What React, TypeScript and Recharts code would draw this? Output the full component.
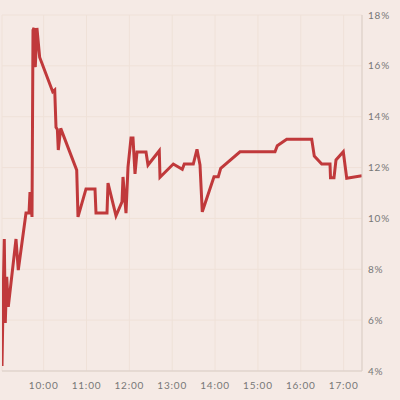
import React from 'react';
import { LineChart, Line, XAxis, YAxis, CartesianGrid } from 'recharts';

// time in minutes since midnight
const times: number[] = [
  541.7, 543.1, 544.9, 546.3, 548.3, 550.5, 561.3, 564.5, 575.3, 579.5,
  580.9, 583.7, 585.1, 586.5, 588.3, 590.6, 594.4, 612.7, 615.5, 617.3,
  619.2, 620.5, 623.9, 646.3, 648.1, 659.3, 671.9, 673.3, 688.7, 690.1,
  701.3, 709.7, 711.1, 715.3, 718.1, 722.3, 725.1, 727.9, 730.7, 743.3,
  746.1, 761.9, 762.9, 781.5, 794.1, 796.9, 809.5, 814.7, 818.9, 822.1,
  838.5, 844.5, 847.9, 874.9, 923.9, 927.1, 940.3, 975.3, 978.9, 989.3,
  1000.9, 1001.6, 1006.5, 1009.3, 1019.5, 1024.3, 1045.7,
];
const rates: number[] = [
  4.2, 6.6, 9.19, 5.89, 7.7, 6.52, 9.19, 7.97, 10.21, 10.21,
  11.04, 10.06, 17.41, 17.49, 15.95, 17.49, 16.34, 14.98, 15.05, 13.58,
  13.5, 12.69, 13.54, 11.9, 10.06, 11.16, 11.16, 10.21, 10.21, 11.39,
  10.1, 10.65, 11.63, 10.21, 12.02, 13.16, 13.16, 11.75, 12.61, 12.61,
  12.1, 12.66, 11.62, 12.14, 11.93, 12.14, 12.14, 12.72, 12.1, 10.26,
  11.64, 11.64, 11.97, 12.62, 12.62, 12.86, 13.11, 13.11, 12.45, 12.14,
  12.14, 11.6, 11.6, 12.3, 12.62, 11.58, 11.68,
];
const xTicks: number[] = [600, 660, 720, 780, 840, 900, 960, 1020];
const xTickLabels: string[] = ['10:00', '11:00', '12:00', '13:00', '14:00', '15:00', '16:00', '17:00'];
const yTicks: number[] = [4, 6, 8, 10, 12, 14, 16, 18];

const data = times.map((t, i) => ({ t, rate: rates[i] }));

const tickStyle = { fontFamily: 'Lato, sans-serif', fontSize: 10, fill: '#777', letterSpacing: 0.8 };

export default function App() {
  return (
    <div style={{ position: 'absolute', left: 0, top: 0, width: 400, height: 400, background: '#F5EAE5' }}>
      <LineChart width={400} height={400} data={data} margin={{ top: 15, right: 0, left: 2, bottom: 0 }}>
        <CartesianGrid stroke="#EFE1D8" strokeWidth={1} verticalPoints={undefined} />
        <XAxis
          dataKey="t"
          type="number"
          domain={[541.7, 1045.7]}
          ticks={xTicks}
          tickFormatter={(v: number) => xTickLabels[xTicks.indexOf(v)]}
          height={29}
          tickLine={false}
          tickSize={0}
          tickMargin={11}
          axisLine={{ stroke: '#D9CDC6' }}
          tick={tickStyle}
          allowDataOverflow
        />
        <YAxis
          orientation="right"
          type="number"
          domain={[4, 18]}
          ticks={yTicks}
          tickFormatter={(v: number) => `${v}%`}
          width={38}
          tickLine={false}
          tickSize={0}
          tickMargin={6}
          axisLine={{ stroke: '#D9CDC6' }}
          tick={{ ...tickStyle, textAnchor: 'start' }}
        />
        <Line
          type="linear"
          dataKey="rate"
          stroke="#C0393B"
          strokeWidth={3}
          dot={false}
          isAnimationActive={false}
        />
      </LineChart>
    </div>
  );
}
